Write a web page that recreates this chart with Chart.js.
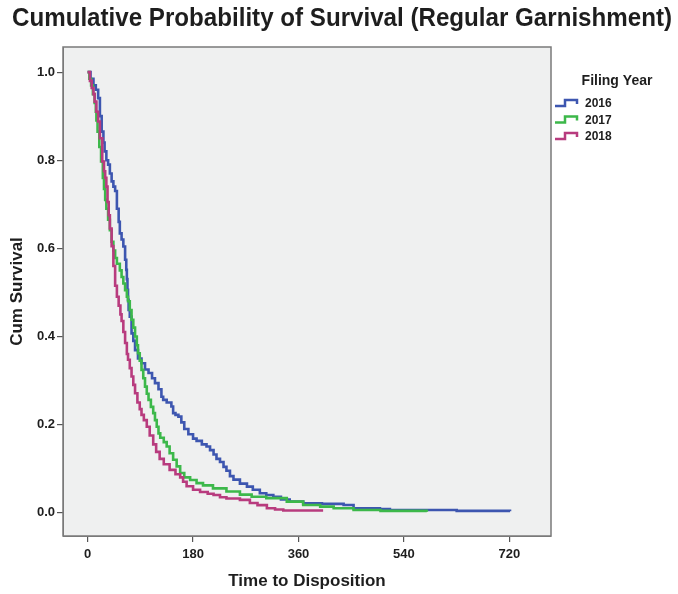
<!DOCTYPE html>
<html lang="en">
<head>
<meta charset="UTF-8">
<title>Cumulative Probability of Survival (Regular Garnishment)</title>
<script src="https://cdn.jsdelivr.net/npm/chart.js@4.4.0/dist/chart.umd.min.js"></script>
<style>
  body { margin: 0; background: #fff; }
  #wrap { width: 678px; height: 594px; }
</style>
</head>
<body>
<div id="wrap"><canvas id="survChart" width="678" height="594"></canvas></div>
<script>
// days to disposition and cumulative survival
const years = ['2016', '2017', '2018'];

const days2016 = [0, 5, 10, 14, 18, 21, 24, 27, 29, 32, 35, 38, 41, 44, 47, 50, 53, 55, 58, 61, 64, 66, 67, 68, 69, 70, 72, 75, 78, 81, 86, 92, 98, 104, 110, 115, 121, 126, 129, 135, 143, 146, 150, 155, 160, 165, 172, 180, 186, 195, 203, 209, 215, 220, 226, 232, 237, 243, 249, 260, 272, 282, 294, 305, 317, 330, 345, 368, 400, 437, 454, 499, 516, 630, 721];
const surv2016 = [1.0, 0.985, 0.97, 0.96, 0.941, 0.90, 0.865, 0.84, 0.82, 0.80, 0.79, 0.77, 0.752, 0.74, 0.73, 0.69, 0.66, 0.634, 0.62, 0.604, 0.574, 0.551, 0.53, 0.506, 0.483, 0.46, 0.445, 0.407, 0.39, 0.369, 0.35, 0.339, 0.325, 0.317, 0.305, 0.294, 0.28, 0.263, 0.256, 0.25, 0.241, 0.226, 0.222, 0.218, 0.205, 0.19, 0.178, 0.168, 0.163, 0.155, 0.15, 0.142, 0.132, 0.122, 0.115, 0.104, 0.095, 0.083, 0.075, 0.066, 0.059, 0.052, 0.044, 0.04, 0.036, 0.03, 0.025, 0.021, 0.02, 0.0175, 0.01, 0.008, 0.006, 0.004, 0.003];

const days2017 = [0, 3, 6, 9, 12, 14, 15, 17, 20, 23, 26, 28, 30, 32, 35, 38, 41, 44, 47, 50, 55, 58, 61, 64, 67, 69, 72, 75, 78, 81, 84, 86, 89, 92, 95, 98, 101, 104, 108, 112, 115, 118, 121, 124, 130, 135, 140, 146, 152, 158, 165, 175, 186, 197, 214, 237, 260, 280, 305, 340, 368, 397, 420, 454, 500, 579];
const surv2017 = [1.0, 0.985, 0.97, 0.95, 0.93, 0.91, 0.89, 0.865, 0.83, 0.797, 0.76, 0.735, 0.71, 0.69, 0.665, 0.641, 0.615, 0.595, 0.578, 0.565, 0.55, 0.535, 0.52, 0.505, 0.49, 0.48, 0.46, 0.438, 0.42, 0.40, 0.38, 0.362, 0.345, 0.324, 0.305, 0.286, 0.27, 0.256, 0.24, 0.226, 0.21, 0.195, 0.18, 0.17, 0.16, 0.15, 0.135, 0.12, 0.105, 0.09, 0.08, 0.074, 0.067, 0.062, 0.055, 0.048, 0.041, 0.036, 0.033, 0.025, 0.0175, 0.0136, 0.01, 0.006, 0.004, 0.002];

const days2018 = [0, 4, 7, 10, 12, 15, 18, 21, 25, 28, 30, 32, 34, 36, 38, 41, 44, 47, 50, 53, 56, 58, 61, 64, 67, 69, 72, 75, 78, 81, 85, 89, 92, 96, 101, 106, 112, 117, 123, 130, 140, 150, 158, 163, 169, 180, 192, 205, 215, 226, 237, 260, 277, 290, 306, 320, 334, 402];
const surv2018 = [1.0, 0.98, 0.964, 0.95, 0.933, 0.91, 0.888, 0.85, 0.797, 0.775, 0.76, 0.74, 0.705, 0.675, 0.645, 0.605, 0.56, 0.515, 0.49, 0.47, 0.45, 0.435, 0.41, 0.385, 0.36, 0.347, 0.328, 0.309, 0.29, 0.271, 0.25, 0.235, 0.222, 0.21, 0.195, 0.175, 0.155, 0.138, 0.122, 0.11, 0.097, 0.087, 0.08, 0.07, 0.06, 0.052, 0.047, 0.043, 0.04, 0.035, 0.032, 0.029, 0.022, 0.017, 0.01, 0.007, 0.005, 0.005];

const xTicks = [0, 180, 360, 540, 720];
const yTicks = [0, 0.2, 0.4, 0.6, 0.8, 1.0];

const colors = ['#3d56b0', '#3cb84a', '#b83b7e'];
const allDays = [days2016, days2017, days2018];
const allSurv = [surv2016, surv2017, surv2018];

function toPoints(days, surv) {
    return days.map((d, i) => ({ x: d, y: surv[i] }));
}

const textColor = '#1e1e1e';
const fontFam = "'Liberation Sans', Arial, sans-serif";

// plot background + frame, title and legend
const decor = {
    id: 'decor',
    beforeDraw(chart) {
        const { ctx, chartArea: a } = chart;
        ctx.save();
        ctx.fillStyle = '#eff0f0';
        ctx.fillRect(a.left, a.top, a.right - a.left, a.bottom - a.top);
        ctx.restore();
    },
    afterDraw(chart) {
        const { ctx, chartArea: a } = chart;
        ctx.save();
        ctx.strokeStyle = '#7a7a7a';
        ctx.lineWidth = 1.5;
        ctx.strokeRect(a.left, a.top, a.right - a.left, a.bottom - a.top);

        // title, squeezed like the condensed face in the original
        const title = 'Cumulative Probability of Survival (Regular Garnishment)';
        ctx.font = 'bold 25px ' + fontFam;
        ctx.fillStyle = textColor;
        ctx.textBaseline = 'middle';
        ctx.textAlign = 'left';
        const w = ctx.measureText(title).width;
        const sx = 660 / w;
        ctx.save();
        ctx.translate(12, 19);
        ctx.scale(sx, 1);
        ctx.fillText(title, 0, 0);
        ctx.restore();

        // legend
        ctx.font = 'bold 14px ' + fontFam;
        ctx.textAlign = 'center';
        ctx.fillText('Filing Year', 617, 81);
        ctx.font = 'bold 12px ' + fontFam;
        ctx.textAlign = 'left';
        years.forEach((yr, i) => {
            const y = 103 + i * 16.5;
            const x0 = 555;
            ctx.strokeStyle = colors[i];
            ctx.lineWidth = 2.5;
            ctx.beginPath();
            ctx.moveTo(x0, y + 3);
            ctx.lineTo(x0 + 10, y + 3);
            ctx.lineTo(x0 + 10, y - 3);
            ctx.lineTo(x0 + 22, y - 3);
            ctx.lineTo(x0 + 22, y + 1);
            ctx.stroke();
            ctx.fillStyle = textColor;
            ctx.fillText(yr, 585, y + 1);
        });
        ctx.restore();
    }
};

new Chart(document.getElementById('survChart'), {
    type: 'line',
    data: {
        datasets: years.map((yr, i) => ({
            label: yr,
            data: toPoints(allDays[i], allSurv[i]),
            borderColor: colors[i],
            borderWidth: 2.6,
            stepped: true,
            pointRadius: 0,
            fill: false,
            order: 3 - i
        }))
    },
    options: {
        responsive: false,
        animation: false,
        layout: { padding: { top: 47, right: 127, left: 0, bottom: 0 } },
        plugins: {
            legend: { display: false },
            title: { display: false },
            tooltip: { enabled: false }
        },
        scales: {
            x: {
                type: 'linear',
                min: -42,
                max: 791,
                afterBuildTicks: s => { s.ticks = xTicks.map(v => ({ value: v })); },
                afterFit: s => { s.height = 58; },
                grid: { drawOnChartArea: false, drawTicks: true, tickLength: 6, color: '#555', lineWidth: 1.2 },
                border: { display: true, color: '#7a7a7a' },
                ticks: { padding: 5, color: textColor, font: { family: fontFam, size: 13, weight: 'bold' } },
                title: {
                    display: true,
                    text: 'Time to Disposition',
                    color: textColor,
                    font: { family: fontFam, size: 17, weight: 'bold' },
                    padding: { top: 0, bottom: 2 }
                }
            },
            y: {
                type: 'linear',
                min: -0.053,
                max: 1.057,
                afterBuildTicks: s => { s.ticks = yTicks.map(v => ({ value: v })); },
                afterFit: s => { s.width = 63; },
                grid: { drawOnChartArea: false, drawTicks: true, tickLength: 6, color: '#555', lineWidth: 1.2 },
                border: { display: true, color: '#7a7a7a' },
                ticks: {
                    padding: 2,
                    color: textColor,
                    font: { family: fontFam, size: 13, weight: 'bold' },
                    callback: v => Number(v).toFixed(1)
                },
                title: {
                    display: true,
                    text: 'Cum Survival',
                    color: textColor,
                    font: { family: fontFam, size: 17, weight: 'bold' },
                    padding: { top: 7, bottom: 0 }
                }
            }
        }
    },
    plugins: [decor]
});
</script>
</body>
</html>
